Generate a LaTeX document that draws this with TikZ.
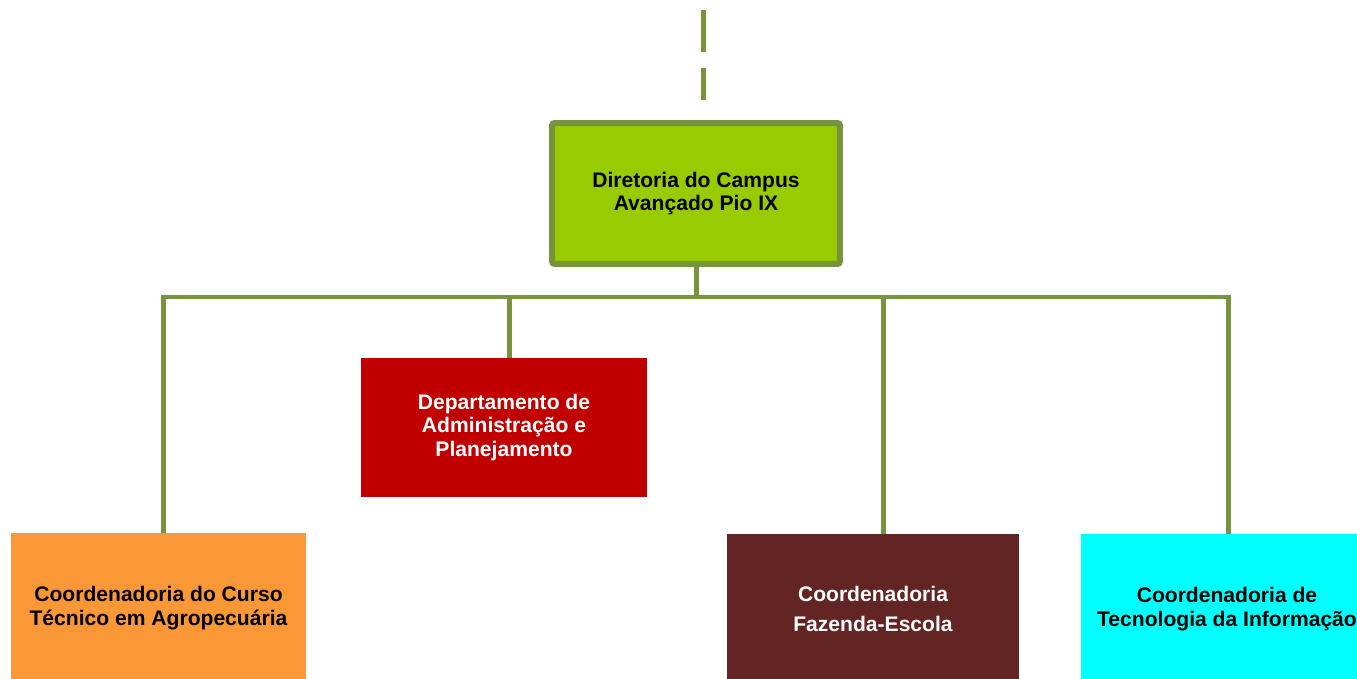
\documentclass[tikz,border=0pt]{standalone}
\usepackage{fontspec}
\setmainfont{Liberation Sans}
\definecolor{LineGreen}{RGB}{119, 147, 60}
\definecolor{BossGreen}{RGB}{153, 204, 0}
\definecolor{DeptRed}{RGB}{192, 0, 0}
\definecolor{CoordOrange}{RGB}{250, 152, 56}
\definecolor{CoordBrown}{RGB}{99, 37, 35}
\definecolor{CoordCyan}{RGB}{0, 255, 255}
\usetikzlibrary{arrows.meta, positioning, calc}

\begin{document}
\begin{tikzpicture}[x=0.02cm, y=-0.02cm]
        \tikzstyle{unit} = [rectangle, text centered, align=center, inner sep=0pt, font=\fontsize{12}{13.5}\selectfont\bfseries]
        \tikzstyle{boss} = [unit, minimum width=5.76cm, minimum height=2.82cm, draw=LineGreen, line width=0.12cm, rounded corners=1.5pt, fill=BossGreen]
        \tikzstyle{coord} = [unit, minimum width=5.9cm, minimum height=3cm]
        \tikzstyle{link} = [line width=0.1cm, LineGreen]

        \useasboundingbox (0,0) rectangle (1357,679);

        % Nodes
        \node (boss) [boss] at (696,193.5) {Diretoria do Campus\\Avançado Pio IX};
        \node (dap) [unit, minimum width=5.72cm, minimum height=2.78cm, fill=DeptRed, text=white] at (504,427.5) {Departamento de\\Administração e\\Planejamento};
        \node (cta) [coord, fill=CoordOrange] at (158.5,608) {Coordenadoria do Curso\\Técnico em Agropecuária};
        \node (cfe) [coord, minimum width=5.84cm, fill=CoordBrown, text=white, font=\fontsize{12}{17.6}\selectfont\bfseries] at (873,609) {Coordenadoria\\Fazenda-Escola};
        \node (cti) [coord, minimum width=5.84cm, fill=CoordCyan] at (1227,609) {Coordenadoria de\\Tecnologia da Informação};

        % Upper link (dashed)
        \coordinate (up) at (703,10);
        \coordinate (upend) at (703,100);
        \draw [link, dash pattern=on 0.84cm off 0.32cm] (up) -- (upend);

        % Bus
        \coordinate (busL) at (163,297);
        \coordinate (busR) at (1228,297);
        \draw [link] (boss.south) -- (boss.south |- busL);
        \draw [link] (busL |- cta.north) -- (busL) -- (busR) -- (busR |- cti.north);
        \draw [link] ([xshift=0.11cm]dap.north |- busL) -- ([xshift=0.11cm]dap.north);
        \draw [link] ([xshift=0.2cm]cfe.north |- busL) -- ([xshift=0.2cm]cfe.north);
    \end{tikzpicture}
\end{document}
